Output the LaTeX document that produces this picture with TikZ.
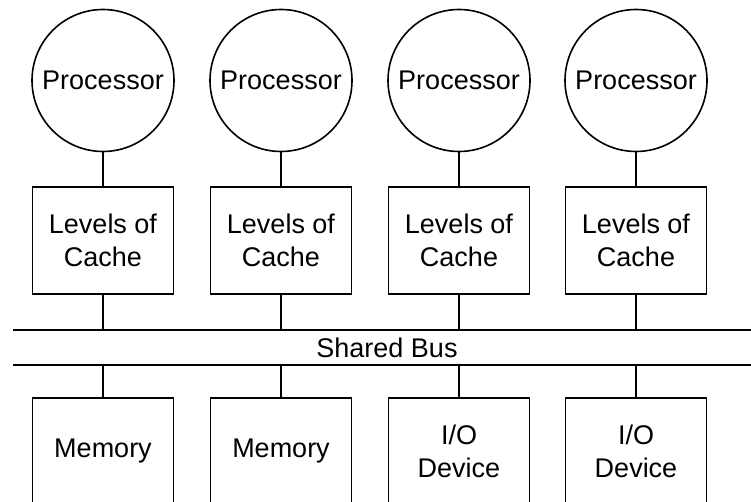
\documentclass[tikz,border=0pt]{standalone}
\usepackage{fontspec}
\setmainfont{Liberation Sans}
\begin{document}
\begin{tikzpicture}[x=1pt,y=-1pt,
  every node/.style={font=\fontsize{27}{33.5}\selectfont, align=center, inner sep=0pt},
  proc/.style={circle, draw, line width=1.6pt, minimum size=142pt},
  unit/.style={rectangle, draw, line width=1.6pt, minimum width=141pt, minimum height=107pt},
  link/.style={line width=1.6pt},
  bus/.style={line width=1.6pt}]
  \useasboundingbox (0,0) rectangle (751,502);
  \clip (0,0) rectangle (751,502);
  % processors, caches and attached devices, one column each
  \foreach \i/\x/\dev in {1/103/{Memory}, 2/281/{Memory}, 3/459/{I/O\\Device}, 4/636/{I/O\\Device}} {
    \node[proc] (p\i) at (\x,80.5) {Processor};
    \node[unit] (c\i) at (\x,240.5) {Levels of\\Cache};
    \node[unit] (d\i) at (\x,451.5) {\dev};
    \coordinate (bt\i) at (\x,330);
    \coordinate (bb\i) at (\x,365);
    \draw[link] (p\i) -- (c\i);
    \draw[link] (c\i) -- (bt\i);
    \draw[link] (bb\i) -- (d\i);
  }
  % the shared bus
  \coordinate (busL1) at (13,330);
  \coordinate (busR1) at (760,330);
  \coordinate (busL2) at (13,365);
  \coordinate (busR2) at (760,365);
  \draw[bus] (busL1) -- (busR1);
  \draw[bus] (busL2) -- (busR2);
  \node (sb) at (387,347.5) {Shared Bus};
\end{tikzpicture}
\end{document}
